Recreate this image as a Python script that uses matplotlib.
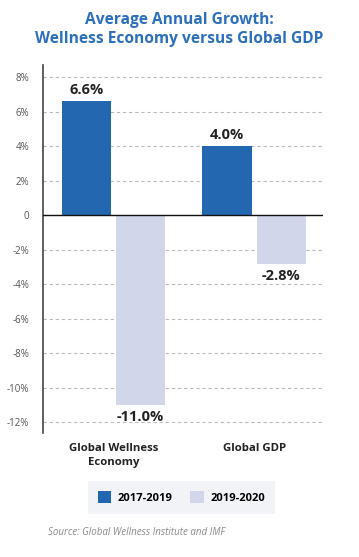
import numpy as np
import matplotlib.pyplot as plt
from matplotlib.patches import Patch

# datos
categorias = ["Global Wellness\nEconomy", "Global GDP"]
serie_2017_2019 = [6.6, 4.0]
serie_2019_2020 = [-11.0, -2.8]
nombres_series = ["2017-2019", "2019-2020"]
ticks_y = [8, 6, 4, 2, 0, -2, -4, -6, -8, -10, -12]

azul = "#2467b1"
lila = "#d1d6eb"
plt.rcParams['font.family'] = ['Open Sans', 'DejaVu Sans']

fig = plt.figure(figsize=(3.59, 5.57), dpi=100)
ax = fig.add_axes([0.120, 0.223, 0.780, 0.660])

x = np.arange(len(categorias))
ancho = 0.35
sep = 0.018
b1 = ax.bar(x - ancho / 2 - sep, serie_2017_2019, ancho, color=azul, zorder=3)
b2 = ax.bar(x + ancho / 2 + sep, serie_2019_2020, ancho, color=lila, zorder=3)

for barras in (b1, b2):
    for b in barras:
        v = b.get_height()
        y = v + 0.25 if v > 0 else v - 0.3
        ax.text(b.get_x() + b.get_width() / 2, y, f"{v:.1f}%",
                ha="center", va="bottom" if v > 0 else "top",
                fontsize=10.5, fontweight="bold", color="#222222")

ax.set_xlim(-0.5, 1.49)
ax.set_ylim(-12.6, 8.7)
ax.set_yticks(ticks_y)
ax.set_yticklabels([("0" if t == 0 else f"{t}%") for t in ticks_y])
ax.tick_params(axis="y", length=0, labelsize=7, colors="#555555", pad=10)
ax.set_xticks([])
ax.yaxis.grid(True, linestyle=(0, (3, 2.5)), color="#bbbbbb", linewidth=0.8, zorder=0)
ax.axhline(0, color="#111111", linewidth=1.0, zorder=4)
for s in ["top", "right", "bottom"]:
    ax.spines[s].set_visible(False)
ax.spines["left"].set_color("#444444")
ax.spines["left"].set_linewidth(1.2)

for xi, cat in zip(x, categorias):
    ax.text(xi, -13.2, cat, ha="center", va="top", fontsize=8.2,
            fontweight="bold", color="#222222", linespacing=1.3)

fig.text(0.5, 0.978, "Average Annual Growth:\nWellness Economy versus Global GDP",
         ha="center", va="top", fontsize=11.2, fontweight="bold",
         color="#2b6fbd", linespacing=1.2)

handles = [Patch(facecolor=azul, edgecolor="none"), Patch(facecolor=lila, edgecolor="none")]
leg = fig.legend(handles, nombres_series, loc="center", bbox_to_anchor=(0.505, 0.107),
                 ncol=2, frameon=True, handlelength=1.2, handleheight=1.2,
                 columnspacing=1.6, handletextpad=0.6, borderpad=0.9,
                 prop={"weight": "bold", "size": 8})
leg.get_frame().set_facecolor("#eff1f5")
leg.get_frame().set_edgecolor("none")
leg.get_frame().set_boxstyle("square", pad=0)

fig.text(0.134, 0.044, "Source: Global Wellness Institute and IMF", ha="left", va="center",
         fontsize=7, style="italic", color="#8a8a8a")

fig.savefig("out.png", dpi=100, facecolor="white")
